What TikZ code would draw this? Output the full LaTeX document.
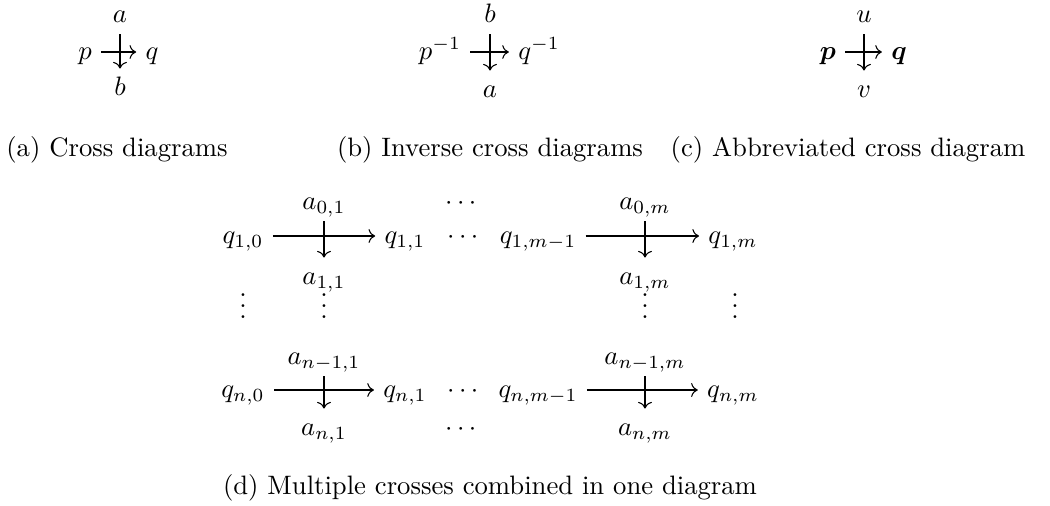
\documentclass[tikz,border=0pt]{standalone}
\usepackage{amsmath,amssymb,bm}
\usepackage{tikz}
\usetikzlibrary{arrows.meta}
\newcommand{\tightvdots}{\vbox{\baselineskip4pt \lineskiplimit0pt \hbox{.}\hbox{.}\hbox{.}}}
\tikzset{
	term/.style={text height=1.5ex, text depth=.25ex, inner sep=3.33pt},
	vdot/.style={inner sep=0pt},
	crossarr/.style={-{Computer Modern Rightarrow}, line width=0.4pt},
	subcap/.style={inner sep=1pt, align=center}
}
\begin{document}
\begin{tikzpicture}[x=0.375pt, y=-0.375pt]
	\useasboundingbox (0,0) rectangle (1050,506);
	% (a) cross diagram
	\node[term] (aN) at (120,15) {$a$};
	\node[term] (aW) at (85,52) {$p$};
	\node[term] (aE) at (152,52) {$q$};
	\node[term] (aS) at (120,88) {$b$};
	\draw[crossarr] (aW) -- (aE);
	\draw[crossarr] (aN) -- (aS);
	\node[subcap] (capA) at (117,150) {(a) Cross diagrams};
	% (b) inverse cross diagram
	\node[term] (bN) at (490,15) {$b$};
	\node[term] (bW) at (440,52) {$p^{-1}$};
	\node[term] (bE) at (539,52) {$q^{-1}$};
	\node[term] (bS) at (490,90) {$a$};
	\draw[crossarr] (bW) -- (bE);
	\draw[crossarr] (bN) -- (bS);
	\node[subcap] (capB) at (490,150) {(b) Inverse cross diagrams};
	% (c) abbreviated cross diagram
	\node[term] (cN) at (864,15) {$u$};
	\node[term] (cW) at (828,52) {$\bm{p}$};
	\node[term] (cE) at (899,52) {$\bm{q}$};
	\node[term] (cS) at (864,90) {$v$};
	\draw[crossarr] (cW) -- (cE);
	\draw[crossarr] (cN) -- (cS);
	\node[subcap] (capC) at (848,150) {(c) Abbreviated cross diagram};
	% (d) grid of crosses
	\node[term] (a01) at (324,202) {$a_{0,1}$};
	\node[term] (hd0) at (463,202) {$\cdots$};
	\node[term] (a0m) at (645,202) {$a_{0,m}$};
	\node[term] (q10) at (243,236) {$q_{1,0}$};
	\node[term] (q11) at (405,236) {$q_{1,1}$};
	\node[term] (hd1) at (465,236) {$\cdots$};
	\node[term] (q1mm) at (538,236) {$q_{1,m-1}$};
	\node[term] (q1m) at (733,236) {$q_{1,m}$};
	\node[term] (a11) at (324,277) {$a_{1,1}$};
	\node[term] (a1m) at (645,277) {$a_{1,m}$};
	\foreach \col/\x in {q/243, a1/324, am/645, qm/735}
		\node[vdot] (vd\col) at (\x,306) {\tightvdots};
	\node[term] (an11) at (324,357) {$a_{n-1,1}$};
	\node[term] (an1m) at (645,357) {$a_{n-1,m}$};
	\node[term] (qn0) at (243,390) {$q_{n,0}$};
	\node[term] (qn1) at (405,390) {$q_{n,1}$};
	\node[term] (hd4) at (465,390) {$\cdots$};
	\node[term] (qnmm) at (538,390) {$q_{n,m-1}$};
	\node[term] (qnm) at (733,390) {$q_{n,m}$};
	\node[term] (an1) at (324,428) {$a_{n,1}$};
	\node[term] (hd5) at (463,428) {$\cdots$};
	\node[term] (anm) at (645,428) {$a_{n,m}$};
	\draw[crossarr] (q10) -- (q11);
	\draw[crossarr] (a01) -- (a11);
	\draw[crossarr] (q1mm) -- (q1m);
	\draw[crossarr] (a0m) -- (a1m);
	\draw[crossarr] (qn0) -- (qn1);
	\draw[crossarr] (an11) -- (an1);
	\draw[crossarr] (qnmm) -- (qnm);
	\draw[crossarr] (an1m) -- (anm);
	\node[subcap] (capD) at (490,488) {(d) Multiple crosses combined in one diagram};
\end{tikzpicture}
\end{document}
